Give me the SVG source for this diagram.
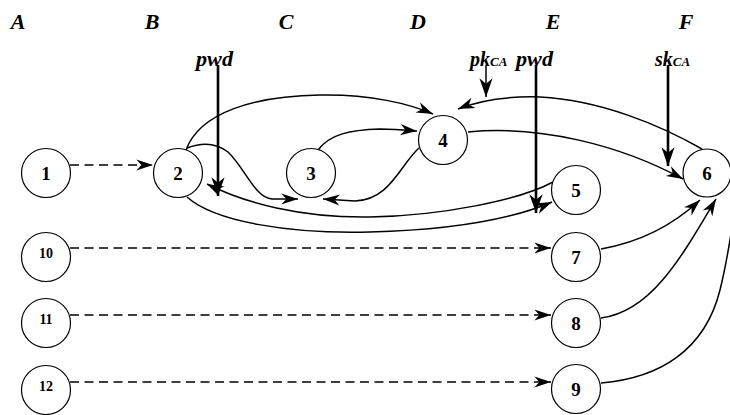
<svg xmlns="http://www.w3.org/2000/svg" width="730" height="415" viewBox="0 0 730 415">
  <style>
    .node circle { fill: #fff; stroke: #000; stroke-width: 1.2; }
    .node text { font-family: "Liberation Serif", serif; font-weight: bold; font-size: 19px; text-anchor: middle; }
    .node.small text { font-size: 14px; }
    .col { font-family: "Liberation Serif", serif; font-weight: bold; font-style: italic; font-size: 22px; text-anchor: middle; }
    .lbl { font-family: "Liberation Serif", serif; font-weight: bold; font-style: italic; font-size: 20px; }
    .sub { font-size: 13px; }
    .edge { fill: none; stroke: #000; stroke-width: 1.5; }
    .dash { fill: none; stroke: #000; stroke-width: 1.5; stroke-dasharray: 9 5.5; }
    .thick { fill: none; stroke: #000; stroke-width: 2.6; }
  </style>
  <defs>
    <marker id="ah" markerUnits="userSpaceOnUse" markerWidth="20" markerHeight="20" viewBox="-16 -8 18 16" refX="0" refY="0" orient="auto">
      <path d="M0,0 L-15,-5 L-10.5,0 L-15,5 Z" fill="#000"/>
    </marker>
    <marker id="ahb" markerUnits="userSpaceOnUse" markerWidth="22" markerHeight="22" viewBox="-18 -9 20 18" refX="0" refY="0" orient="auto">
      <path d="M0,0 L-17,-6 L-12,0 L-17,6 Z" fill="#000"/>
    </marker>
  </defs>

  <!-- column headings -->
  <g id="columns">
    <text class="col" x="18" y="29">A</text>
    <text class="col" x="152" y="29">B</text>
    <text class="col" x="286" y="29">C</text>
    <text class="col" x="418" y="29">D</text>
    <text class="col" x="553" y="29">E</text>
    <text class="col" x="686" y="29">F</text>
  </g>

  <!-- input labels -->
  <g id="inputs">
    <text class="lbl" x="196" y="66" textLength="37" lengthAdjust="spacingAndGlyphs">pwd</text>
    <text class="lbl" x="470" y="66">pk<tspan class="sub">CA</tspan></text>
    <text class="lbl" x="516" y="66" textLength="37" lengthAdjust="spacingAndGlyphs">pwd</text>
    <text class="lbl" x="655" y="66">sk<tspan class="sub">CA</tspan></text>
  </g>

  <g id="connectors">
    <!-- input arrows -->
    <line class="thick" x1="218" y1="65" x2="218" y2="196" marker-end="url(#ahb)"/>
    <line class="edge" x1="486" y1="65" x2="486" y2="97" stroke-width="2" marker-end="url(#ahb)"/>
    <line class="thick" x1="536" y1="65" x2="536" y2="213" marker-end="url(#ahb)"/>
    <line class="thick" x1="668" y1="65" x2="668" y2="166" marker-end="url(#ahb)"/>

    <!-- dashed arrows -->
    <line class="dash" x1="70" y1="165" x2="153" y2="165" marker-end="url(#ah)"/>
    <line class="dash" x1="70" y1="248" x2="551" y2="248" marker-end="url(#ah)"/>
    <line class="dash" x1="70" y1="315" x2="551" y2="315" marker-end="url(#ah)"/>
    <line class="dash" x1="70" y1="382" x2="551" y2="382" marker-end="url(#ah)"/>

    <!-- 2 -> 4 -->
    <path class="edge" d="M186,150 C200,112 255,96 320,95 C370,94 410,104 433,114" marker-end="url(#ah)"/>
    <!-- 6 -> 4 -->
    <path class="edge" d="M702,149 C660,125 600,100 540,97 C505,96 478,101 458,109" marker-end="url(#ah)"/>
    <!-- 3 -> 4 -->
    <path class="edge" d="M318,150 C330,134 350,130 380,129 C395,129 405,130 417,131" marker-end="url(#ah)"/>
    <!-- 4 -> 3 -->
    <path class="edge" d="M419,148 C400,165 390,200 355,201 L323,199" marker-end="url(#ah)"/>
    <!-- 2 -> 3 -->
    <path class="edge" d="M187,148 C200,143 215,142 228,152 C245,168 255,198 272,199 L298,199" marker-end="url(#ah)"/>
    <!-- 5 -> 2 -->
    <path class="edge" d="M553,182 C520,200 440,216 370,217 C300,218 245,203 207,184" marker-end="url(#ah)"/>
    <!-- 2 -> 5 -->
    <path class="edge" d="M187,197 C215,222 290,234 370,232 C450,230 510,220 552,202" marker-end="url(#ah)"/>
    <!-- 4 -> 6 -->
    <path class="edge" d="M468,132 C540,125 620,145 683,179" marker-end="url(#ah)"/>
    <!-- 7 -> 6 -->
    <path class="edge" d="M601,249 C635,243 670,228 700,200" marker-end="url(#ah)"/>
    <!-- 8 -> 6 -->
    <path class="edge" d="M601,318 C650,312 680,260 716,199" marker-end="url(#ah)"/>
    <!-- 9 -> 6 -->
    <path class="edge" d="M601,383 C660,378 705,350 720,290 C727,262 730,240 734,215"/>
  </g>

  <g id="n1" class="node"><circle cx="46" cy="173" r="24.5"/><text x="46" y="180">1</text></g>
  <g id="n2" class="node"><circle cx="178" cy="173" r="24.5"/><text x="178" y="180">2</text></g>
  <g id="n3" class="node"><circle cx="311" cy="173" r="24.5"/><text x="311" y="180">3</text></g>
  <g id="n4" class="node"><circle cx="443" cy="140" r="24.5"/><text x="443" y="147">4</text></g>
  <g id="n5" class="node"><circle cx="576" cy="190" r="24.5"/><text x="576" y="197">5</text></g>
  <g id="n6" class="node"><circle cx="707" cy="173" r="24"/><text x="707" y="180">6</text></g>
  <g id="n7" class="node"><circle cx="576" cy="257" r="24.5"/><text x="576" y="264">7</text></g>
  <g id="n8" class="node"><circle cx="576" cy="323" r="24.5"/><text x="576" y="330">8</text></g>
  <g id="n9" class="node"><circle cx="576" cy="389" r="24.5"/><text x="576" y="396">9</text></g>
  <g id="n10" class="node small"><circle cx="46" cy="257" r="24.5"/><text x="46" y="258">10</text></g>
  <g id="n11" class="node small"><circle cx="46" cy="323" r="24.5"/><text x="46" y="324">11</text></g>
  <g id="n12" class="node small"><circle cx="46" cy="390" r="24.5"/><text x="46" y="391">12</text></g>
</svg>
